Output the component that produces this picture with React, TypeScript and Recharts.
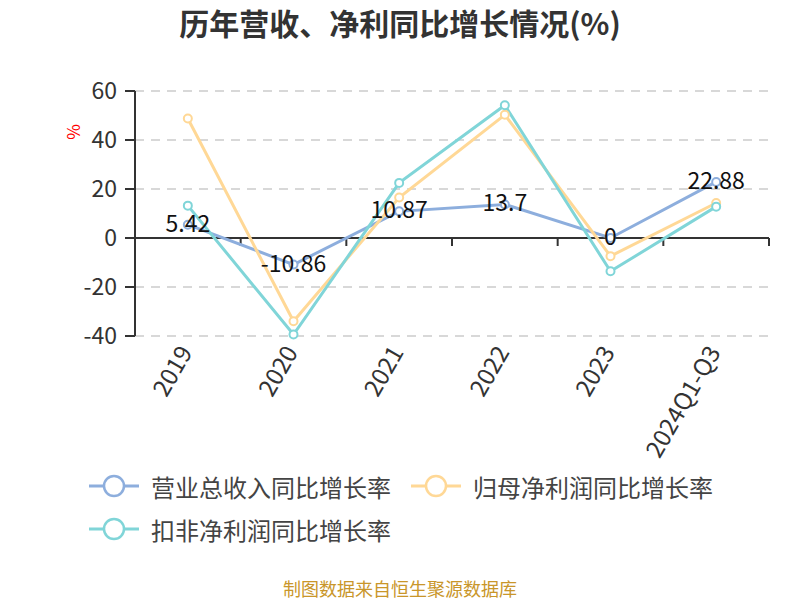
import {
  CartesianGrid,
  LabelList,
  Line,
  LineChart,
  ReferenceLine,
  XAxis,
  YAxis,
} from "recharts";

const years = ["2019", "2020", "2021", "2022", "2023", "2024Q1-Q3"];
const revenueGrowth = [5.42, -10.86, 10.87, 13.7, 0, 22.88];
const parentProfitGrowth = [48.8, -34.0, 16.5, 50.3, -7.4, 14.3];
const deductedProfitGrowth = [13.2, -39.4, 22.5, 54.2, -13.6, 12.8];
const yTicks = [-40, -20, 0, 20, 40, 60];

const series = [
  { key: "revenue", name: "营业总收入同比增长率", color: "#8DAEDD", values: revenueGrowth },
  { key: "parent", name: "归母净利润同比增长率", color: "#FFD896", values: parentProfitGrowth },
  { key: "deducted", name: "扣非净利润同比增长率", color: "#80D5D8", values: deductedProfitGrowth },
];

const data = years.map((year, i) => {
  const row: Record<string, string | number> = { year };
  series.forEach((s) => {
    row[s.key] = s.values[i];
  });
  return row;
});

const FONT = '"Noto Sans CJK SC", "Noto Sans", sans-serif';

function XTick({ x, y, payload }: any) {
  return (
    <g transform={`translate(${x - 2},${y})`}>
      <text
        x={0}
        y={0}
        dy="0.35em"
        transform="rotate(-60)"
        textAnchor="end"
        fontSize={24}
        fill="#333"
        fontFamily={FONT}
      >
        {payload.value}
      </text>
    </g>
  );
}

function ZeroAxis({ x1, y1, x2, y2 }: any) {
  const step = (x2 - x1) / years.length;
  return (
    <g>
      <line x1={x1} y1={y1} x2={x2} y2={y2} stroke="#333" strokeWidth={2} />
      {years.map((_, i) => (
        <line
          key={i}
          x1={x1 + (i + 1) * step}
          x2={x1 + (i + 1) * step}
          y1={y1}
          y2={y1 + 8}
          stroke="#333"
          strokeWidth={2}
        />
      ))}
    </g>
  );
}

function ValueLabel({ x, y, value }: any) {
  return (
    <text
      x={x}
      y={y - 3}
      textAnchor="middle"
      dominantBaseline="central"
      fontSize={23}
      fill="#111"
      fontFamily={FONT}
    >
      {value}
    </text>
  );
}

function UnitLabel({ viewBox }: any) {
  const cx = viewBox.x + 72;
  const cy = viewBox.y + 41;
  return (
    <text
      x={cx}
      y={cy}
      transform={`rotate(-90 ${cx} ${cy})`}
      textAnchor="middle"
      dominantBaseline="central"
      fontSize={17}
      fill="#ff0000"
      fontFamily={FONT}
    >
      %
    </text>
  );
}

function LegendIcon({ color }: { color: string }) {
  return (
    <svg width={50} height={24} style={{ display: "block" }}>
      <line x1={0} y1={12} x2={50} y2={12} stroke={color} strokeWidth={3} />
      <circle cx={25} cy={12} r={10} fill="#fff" stroke={color} strokeWidth={2.5} />
    </svg>
  );
}

export default function App() {
  return (
    <div
      style={{
        position: "absolute",
        left: 0,
        top: 0,
        width: 800,
        height: 600,
        background: "#fff",
        fontFamily: FONT,
      }}
    >
      <div
        style={{
          position: "absolute",
          top: 3,
          left: 0,
          width: 800,
          textAlign: "center",
          fontSize: 30,
          lineHeight: "38px",
          fontWeight: 700,
          color: "#333",
        }}
      >
        历年营收、净利同比增长情况(%)
      </div>
      <LineChart
        width={800}
        height={600}
        data={data}
        margin={{ top: 91, right: 31, left: 0, bottom: 0 }}
      >
        <CartesianGrid
          vertical={false}
          stroke="#ccc"
          strokeWidth={1.5}
          strokeDasharray="9 7"
        />
        <XAxis
          dataKey="year"
          scale="band"
          height={264}
          axisLine={false}
          tickLine={false}
          tickSize={0}
          tickMargin={12}
          interval={0}
          tick={<XTick />}
        />
        <YAxis
          width={135}
          domain={[-40, 60]}
          ticks={yTicks}
          interval={0}
          axisLine={{ stroke: "#333", strokeWidth: 2 }}
          tickLine={{ stroke: "#333", strokeWidth: 2 }}
          tickSize={10}
          tickMargin={8}
          tick={{ fontSize: 23, fill: "#333", fontFamily: FONT }}
          label={<UnitLabel />}
        />
        <ReferenceLine y={0} shape={<ZeroAxis />} />
        {series.map((s) => (
          <Line
            key={s.key}
            type="linear"
            dataKey={s.key}
            name={s.name}
            stroke={s.color}
            strokeWidth={3}
            dot={{ r: 4, fill: "#fff", stroke: s.color, strokeWidth: 2 }}
            activeDot={false}
            isAnimationActive={false}
          />
        ))}
        <Line
          dataKey="revenue"
          stroke="none"
          dot={false}
          activeDot={false}
          legendType="none"
          isAnimationActive={false}
        >
          <LabelList dataKey="revenue" content={<ValueLabel />} />
        </Line>
      </LineChart>
      <div
        style={{
          position: "absolute",
          left: 89,
          top: 474,
          width: 660,
          display: "flex",
          flexWrap: "wrap",
          rowGap: 19,
        }}
      >
        {series.map((s) => (
          <div
            key={s.key}
            style={{
              display: "flex",
              alignItems: "center",
              height: 24,
              width: s.key === "revenue" ? 322 : 330,
              fontSize: 24,
              color: "#444",
            }}
          >
            <LegendIcon color={s.color} />
            <span style={{ marginLeft: 12, whiteSpace: "nowrap" }}>{s.name}</span>
          </div>
        ))}
      </div>
      <div
        style={{
          position: "absolute",
          top: 577,
          left: 0,
          width: 800,
          textAlign: "center",
          fontSize: 18,
          lineHeight: "22px",
          color: "#C9962A",
        }}
      >
        制图数据来自恒生聚源数据库
      </div>
    </div>
  );
}
